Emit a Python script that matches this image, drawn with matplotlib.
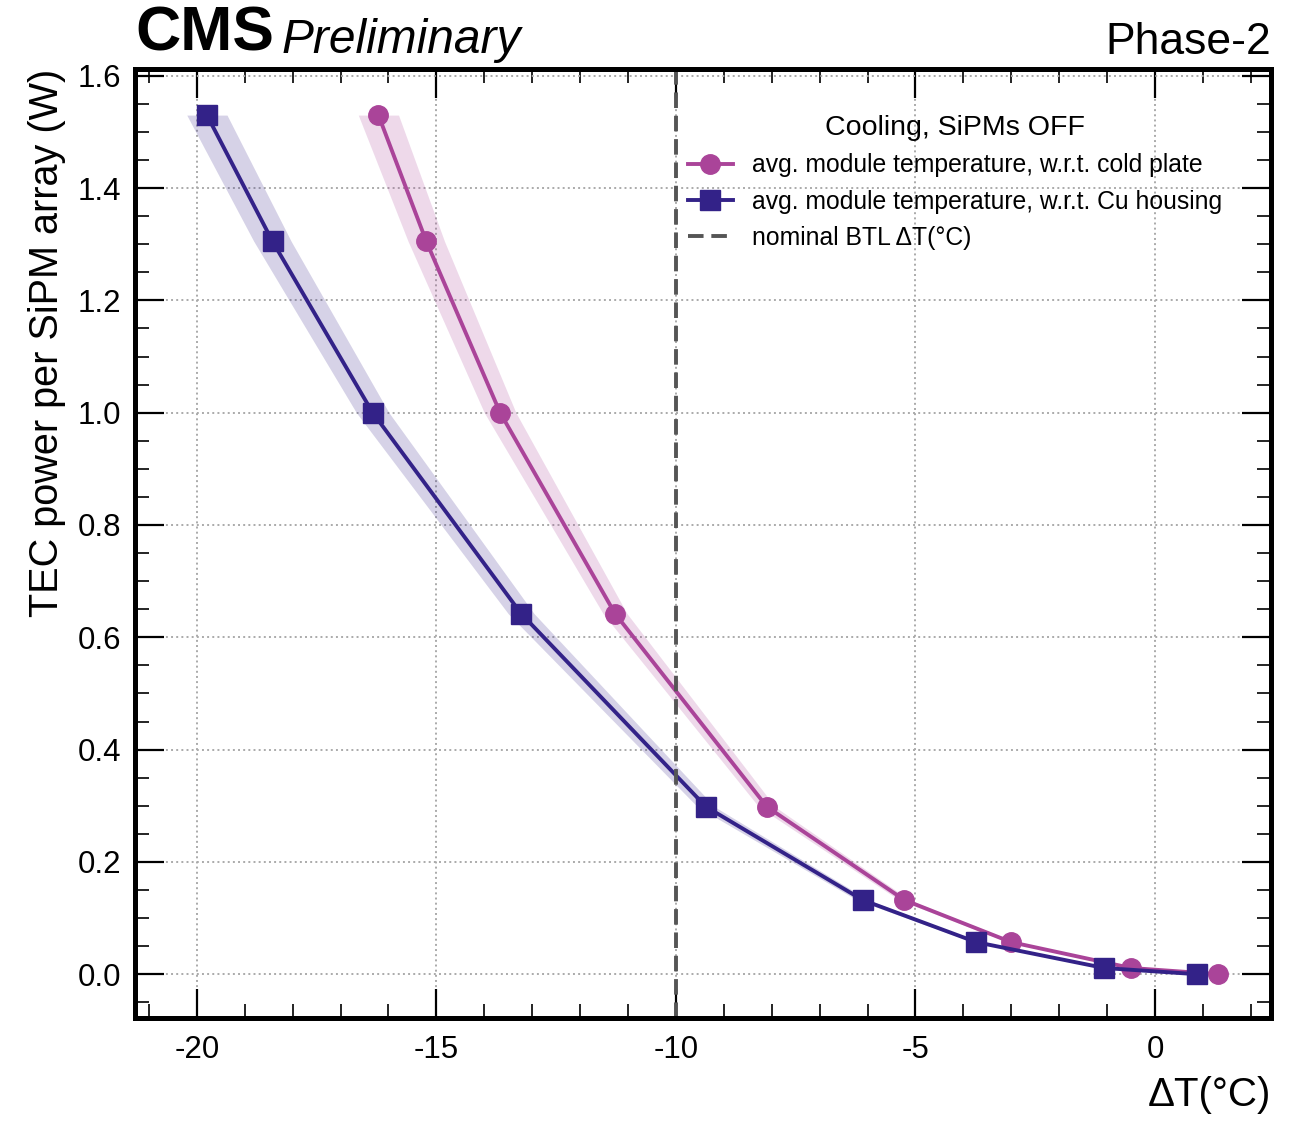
import matplotlib
matplotlib.use("Agg")
import matplotlib.pyplot as plt
from matplotlib.ticker import MultipleLocator, FormatStrFormatter
import numpy as np

plt.rcParams['font.family'] = ['Liberation Sans', 'DejaVu Sans']
plt.rcParams['axes.unicode_minus'] = False

# TEC power per SiPM array (W), same for both series
power = [1.53, 1.305, 1.0, 0.642, 0.298, 0.132, 0.057, 0.011, 0.0]

# avg. module temperature w.r.t. cold plate
dt_cold = [-16.21, -15.21, -13.67, -11.27, -8.10, -5.23, -3.00, -0.50, 1.31]
err_cold = [0.42, 0.38, 0.33, 0.25, 0.17, 0.11, 0.07, 0.03, 0.02]

# avg. module temperature w.r.t. Cu housing
dt_cu = [-19.79, -18.42, -16.33, -13.23, -9.37, -6.10, -3.73, -1.06, 0.875]
err_cu = [0.42, 0.39, 0.34, 0.27, 0.18, 0.12, 0.07, 0.03, 0.02]

nominal_dt = -10

col_cold = '#AA4499'
col_cu = '#332288'

fig = plt.figure(figsize=(12.96, 11.21), dpi=100)
ax = fig.add_axes([0.1042, 0.0919, 0.8765, 0.8465])

p = np.array(power)
for dt, err, col in [(dt_cold, err_cold, col_cold), (dt_cu, err_cu, col_cu)]:
    dt = np.array(dt)
    err = np.array(err)
    ax.fill_betweenx(p, dt - err, dt + err, color=col, alpha=0.2, lw=0)

ax.plot(dt_cold, power, '-o', color=col_cold, lw=2.8, ms=14,
        label='avg. module temperature, w.r.t. cold plate')
ax.plot(dt_cu, power, '-s', color=col_cu, lw=2.8, ms=14,
        label='avg. module temperature, w.r.t. Cu housing')
ax.axvline(nominal_dt, color='#555555', ls=(0, (4, 2)), lw=2.8,
           label='nominal BTL ΔT(°C)')

ax.set_xlim(-21.29, 2.42)
ax.set_ylim(-0.078, 1.612)

ax.xaxis.set_major_locator(MultipleLocator(5))
ax.xaxis.set_minor_locator(MultipleLocator(1))
ax.yaxis.set_major_locator(MultipleLocator(0.2))
ax.yaxis.set_minor_locator(MultipleLocator(0.05))
ax.yaxis.set_major_formatter(FormatStrFormatter('%.1f'))

ax.tick_params(which='both', direction='in', top=True, right=True, labelsize=22.5)
ax.tick_params(which='major', length=21, width=1.6, pad=12)
ax.tick_params(axis='y', which='major', pad=10)
ax.tick_params(which='minor', length=10, width=1.2)
for s in ax.spines.values():
    s.set_linewidth(3.6)

ax.grid(True, which='major', ls=':', color='#aaaaaa', lw=1.4)
ax.set_axisbelow(True)

ax.set_xlabel('ΔT(°C)', fontsize=29, loc='right', labelpad=8)
ax.set_ylabel('TEC power per SiPM array (W)', fontsize=28.5, loc='top', labelpad=8)

leg = ax.legend(loc='upper right', bbox_to_anchor=(0.977, 0.975), frameon=False,
                title='Cooling, SiPMs OFF', fontsize=17.8, title_fontsize=20.5,
                handlelength=1.8, handletextpad=0.8, labelspacing=0.5)

ax.text(0.0, 1.006, 'CMS', transform=ax.transAxes, fontsize=45, fontweight='bold',
        ha='left', va='bottom')
ax.text(0.129, 1.006, 'Preliminary', transform=ax.transAxes, fontsize=34.5,
        style='italic', ha='left', va='bottom')
ax.text(1.0, 1.006, 'Phase-2', transform=ax.transAxes, fontsize=32,
        ha='right', va='bottom')

fig.savefig('out.png', dpi=100)
